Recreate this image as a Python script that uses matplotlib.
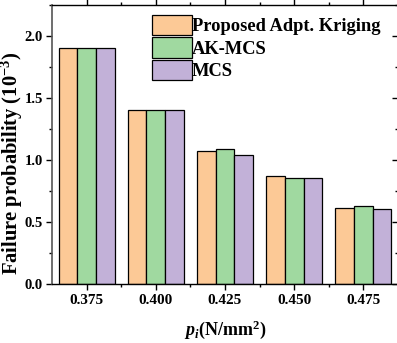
import matplotlib
matplotlib.use("Agg")
import matplotlib.pyplot as plt
import numpy as np
from matplotlib.ticker import MultipleLocator, FixedLocator

categories = ["0.375", "0.400", "0.425", "0.450", "0.475"]
series_names = ["Proposed Adpt. Kriging", "AK-MCS", "MCS"]
proposed = [1.90, 1.40, 1.073, 0.868, 0.61]
akmcs = [1.90, 1.40, 1.089, 0.858, 0.633]
mcs = [1.90, 1.40, 1.04, 0.858, 0.605]
colors = ["#FCC996", "#A0D9A0", "#C2B1D8"]

plt.rcParams['font.family'] = ['Liberation Serif']
plt.rcParams['font.weight'] = 'bold'
plt.rcParams['mathtext.fontset'] = 'custom'
plt.rcParams['mathtext.rm'] = 'Liberation Serif:bold'
plt.rcParams['mathtext.it'] = 'Liberation Serif:italic:bold'
plt.rcParams['mathtext.bf'] = 'Liberation Serif:bold'

fig = plt.figure(figsize=(3.97, 3.43), dpi=100)
ax = fig.add_axes([52/397, 59/343, (398-52)/397, (284-5)/343])

x = np.arange(len(categories))
w = 0.27
for i, (vals, name) in enumerate(zip([proposed, akmcs, mcs], series_names)):
    ax.bar(x + (i - 1) * w, vals, width=w, color=colors[i], edgecolor='black',
           linewidth=0.9, label=name)

ax.set_xlim(-0.5, 4.5)
ax.set_ylim(0, 2.25)
ax.set_xticks(x)
ax.set_xticklabels(categories)
ax.xaxis.set_minor_locator(FixedLocator([0.5, 1.5, 2.5, 3.5]))
ax.yaxis.set_major_locator(MultipleLocator(0.5))
ax.yaxis.set_minor_locator(MultipleLocator(0.25))
ax.yaxis.set_major_formatter(matplotlib.ticker.FormatStrFormatter('%.1f'))

ax.tick_params(axis='both', which='major', length=4.5, width=1, direction='out', pad=2)
ax.tick_params(axis='x', which='major', labelsize=11, pad=3)
ax.tick_params(axis='y', which='major', labelsize=10.5)
ax.tick_params(axis='both', which='minor', length=2.5, width=1, direction='out')
ax.tick_params(axis='x', which='both', top=True)
ax.tick_params(axis='y', which='both', right=True)
for lab in ax.get_xticklabels() + ax.get_yticklabels():
    lab.set_fontweight('bold')

ax.spines['left'].set_color('#555555')
ax.spines['left'].set_linewidth(1.2)
ax.spines['bottom'].set_linewidth(1.0)
ax.spines['top'].set_linewidth(1.0)
ax.spines['right'].set_linewidth(1.0)

# right ticks inward (spine sits at image edge)
for t in ax.yaxis.get_major_ticks() + ax.yaxis.get_minor_ticks():
    t.tick2line.set_marker(0)

ax.set_ylabel(r"Failure probability (10$^{-3}$)", fontsize=14.8, fontweight='bold')
ax.yaxis.set_label_coords(-0.079, 0.432)
ax.set_xlabel(r"$p_i$(N/mm$^2$)", fontsize=13, fontweight='bold', labelpad=8)

leg = ax.legend(loc='upper left', bbox_to_anchor=(100/346, 1 - 10/279), frameon=False,
                prop={'family': 'Liberation Serif', 'weight': 'bold', 'size': 13.3},
                handlelength=2.16, handleheight=1.3, handletextpad=0.0,
                labelspacing=0.12, borderaxespad=0, borderpad=0)

fig.savefig("out.png", dpi=100)
